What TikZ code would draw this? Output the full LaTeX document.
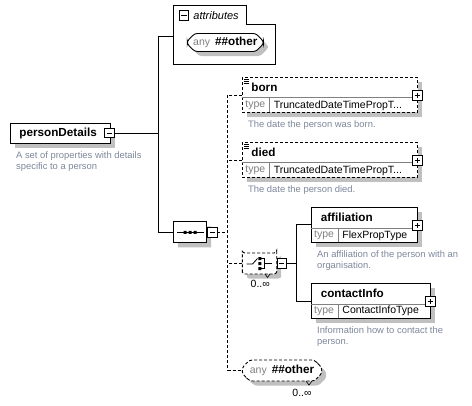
\documentclass[tikz,border=0pt]{standalone}
\usepackage{fontspec}
\setmainfont{Liberation Sans}
\usetikzlibrary{shapes.misc,shadows}
\definecolor{desctext}{RGB}{125,135,155}
\definecolor{shadowgray}{RGB}{192,192,192}
\definecolor{labelgray}{RGB}{128,128,128}
\tikzset{
  shadowed/.style={drop shadow={shadow xshift=4.5pt, shadow yshift=-4.5pt, fill=shadowgray, opacity=1}},
  elem/.style={draw, fill=white, inner sep=0pt, outer sep=0pt, anchor=north west, shadowed},
  dashline/.style={dash pattern=on 3pt off 2pt},
  btn/.style={draw, fill=white, minimum size=9.5pt, inner sep=0pt, outer sep=0pt},
  minusbtn/.style={btn, path picture={\draw[line width=0.8pt] ([xshift=2pt]path picture bounding box.west) -- ([xshift=-2pt]path picture bounding box.east);}},
  plusbtn/.style={btn, path picture={\draw[line width=0.8pt] ([xshift=2pt]path picture bounding box.west) -- ([xshift=-2pt]path picture bounding box.east) ([yshift=2pt]path picture bounding box.south) -- ([yshift=-2pt]path picture bounding box.north);}},
  octa/.style={chamfered rectangle, chamfered rectangle xsep=4pt, draw, fill=white, inner sep=0pt, outer sep=0pt, shadowed},
  anybox/.style={octa, rounded corners=2.5pt},
  elname/.style={inner sep=0pt, anchor=west, font=\fontsize{11.7}{14}\selectfont\bfseries},
  typelbl/.style={inner sep=0pt, anchor=west, text=labelgray, font=\fontsize{10.5}{12}\selectfont},
  typeval/.style={inner sep=0pt, anchor=west, font=\fontsize{10.5}{12}\selectfont},
  desc/.style={inner sep=0pt, anchor=west, align=left, text=desctext, font=\fontsize{9.4}{11}\selectfont},
  sepline/.style={draw=labelgray, line width=0.8pt},
  mult/.style={inner sep=0pt, font=\fontsize{10.5}{12}\selectfont}
}
\begin{document}
\begin{tikzpicture}[x=1pt, y=-1pt, line width=0.9pt]
    \useasboundingbox (0,0) rectangle (472,405);

    % Elemento radice
    \node[elem, anchor=center, minimum width=99.7, minimum height=20] (pd_box) at (60.2,133) {};
    \node[elname] (pd_name) at (19,133) {personDetails};
    \node[minusbtn] (pd_btn) at (109.5,133) {};
    \node[desc] (pd_desc) at (15.7,161.7) {A set of properties with details\\specific to a person};

    % Attributi
    \node[inner sep=0pt, outer sep=0pt, minimum width=73.4, minimum height=19, anchor=north west] (attr_tab) at (173.3,5.3) {};
    \node[inner sep=0pt, outer sep=0pt, minimum width=102.4, minimum height=40, anchor=north west] (attr_box) at (173.3,24.3) {};
    \draw (attr_tab.south west) |- (attr_tab.north east) |- (attr_box.north east) |- (attr_box.south west) -- cycle;
    \node[minusbtn] (attr_btn) at (183.8,15.3) {};
    \node[inner sep=0pt, anchor=west, font=\fontsize{11}{13}\selectfont\itshape] (attr_title) at (193,15.3) {attributes};
    \node[anybox, minimum width=76, minimum height=18] (attr_any) at (225.3,42.5) {\textcolor{labelgray}{\fontsize{10.5}{12}\selectfont any}\hspace{5pt}{\fontsize{11.7}{14}\selectfont\bfseries\#\#other}};

    % Sequenza
    \node[octa, minimum width=33.4, minimum height=21] (seq_box) at (190,232.3) {};
    \draw[line width=0.8pt] (177,232.3) -- (204,232.3);
    \fill (183.7,230.8) rectangle ++(3,3) (188.7,230.8) rectangle ++(3,3) (193.7,230.8) rectangle ++(3,3);
    \node[minusbtn] (seq_btn) at (212.5,232.3) {};

    % Collegamenti dalla radice
    \coordinate (fork) at (158.3,133);
    \draw (pd_btn.east) -- (fork);
    \draw ([yshift=8pt]attr_box.west) -| (fork) |- (seq_box.west);

    % born
    \node[elem, dashline, minimum width=175.4, minimum height=34.6] (born_box) at (242.3,77.7) {};
    \draw[sepline] (242.3,97.7) -- (417.7,97.7) (269.3,97.7) -- (269.3,112.3);
    \draw[line width=0.6pt] (244,79.5) -- ++(5,0) (244,81.5) -- ++(5,0) (244,83.5) -- ++(5,0);
    \node[elname] (born_name) at (251,87.7) {born};
    \node[typelbl] (born_type) at (245,105.3) {type};
    \node[typeval] (born_val) at (273.3,105.3) {TruncatedDateTimePropT...};
    \node[plusbtn] (born_btn) at (417.3,95.3) {};
    \node[desc] (born_desc) at (247.7,124.7) {The date the person was born.};

    % died
    \node[elem, dashline, minimum width=175.4, minimum height=34.6] (died_box) at (242.3,142.7) {};
    \draw[sepline] (242.3,162.7) -- (417.7,162.7) (269.3,162.7) -- (269.3,177.3);
    \draw[line width=0.6pt] (244,144.5) -- ++(5,0) (244,146.5) -- ++(5,0) (244,148.5) -- ++(5,0);
    \node[elname] (died_name) at (251,152.7) {died};
    \node[typelbl] (died_type) at (245,170.3) {type};
    \node[typeval] (died_val) at (273.3,170.3) {TruncatedDateTimePropT...};
    \node[plusbtn] (died_btn) at (417.3,160.5) {};
    \node[desc] (died_desc) at (247.7,189.7) {The date the person died.};

    % Scelta
    \node[octa, dashline, rounded corners=2.5pt, minimum width=34.4, minimum height=21] (choice_box) at (259.5,263.5) {};
    \draw[line width=0.8pt] (246.7,264) -- (252.5,264) -- (257.5,258.5);
    \fill (258.3,257) rectangle ++(3,3) (258.3,262) rectangle ++(3,3) (258.3,267) rectangle ++(3,3);
    \draw[line width=0.8pt] (261.3,258.5) -- (264.5,258.5) -- (264.5,268.5) -- (261.3,268.5) (264.5,263.5) -- (271.5,263.5);
    \draw[line width=0.6pt] (265,274) -- (267.5,277.5) -- (270,274);
    \node[minusbtn] (choice_btn) at (281.7,263.5) {};
    \node[mult] (choice_mult) at (260.3,284) {0..∞};

    % affiliation
    \node[elem, minimum width=106.4, minimum height=35] (affil_box) at (311.3,207.3) {};
    \draw[sepline] (311.3,228.3) -- (417.7,228.3) (338.7,228.3) -- (338.7,242.3);
    \node[elname] (affil_name) at (320.3,217.7) {affiliation};
    \node[typelbl] (affil_type) at (313.7,235.3) {type};
    \node[typeval] (affil_val) at (342,235.3) {FlexPropType};
    \node[plusbtn] (affil_btn) at (417.3,225.3) {};
    \node[desc] (affil_desc) at (316.7,260.7) {An affiliation of the person with an\\organisation.};

    % contactInfo
    \node[elem, minimum width=119, minimum height=34.6] (contact_box) at (311.3,283.7) {};
    \draw[sepline] (311.3,304) -- (430.3,304) (338.7,304) -- (338.7,318.3);
    \node[elname] (contact_name) at (320.3,293.3) {contactInfo};
    \node[typelbl] (contact_type) at (313.7,311) {type};
    \node[typeval] (contact_val) at (342,311) {ContactInfoType};
    \node[plusbtn] (contact_btn) at (430.3,301.3) {};
    \node[desc] (contact_desc) at (316.7,336.7) {Information how to contact the\\person.};

    % Collegamenti della scelta
    \coordinate (ctrunk) at (296.3,263.5);
    \draw (choice_btn.east) -- (ctrunk);
    \draw (affil_box.west) -| (ctrunk) |- (contact_box.west);

    % Qualsiasi elemento
    \node[anybox, dashline, minimum width=79.4, minimum height=21] (any_box) at (282,370.5) {\textcolor{labelgray}{\fontsize{10.5}{12}\selectfont any}\hspace{5pt}{\fontsize{11.7}{14}\selectfont\bfseries\#\#other}};
    \draw[line width=0.6pt] (306,381) -- (309,385) -- (312,381);
    \node[mult] (any_mult) at (302,393.3) {0..∞};

    % Collegamenti tratteggiati della sequenza
    \coordinate (spine) at (227.7,232.3);
    \draw[dashline] (seq_btn.east) -- (spine);
    \draw[dashline] (born_box.west) -| (spine) |- (any_box.west);
    \draw[dashline] (died_box.west) -- (died_box.west -| spine);
    \draw[dashline] (choice_box.west) -- (choice_box.west -| spine);
\end{tikzpicture}
\end{document}
